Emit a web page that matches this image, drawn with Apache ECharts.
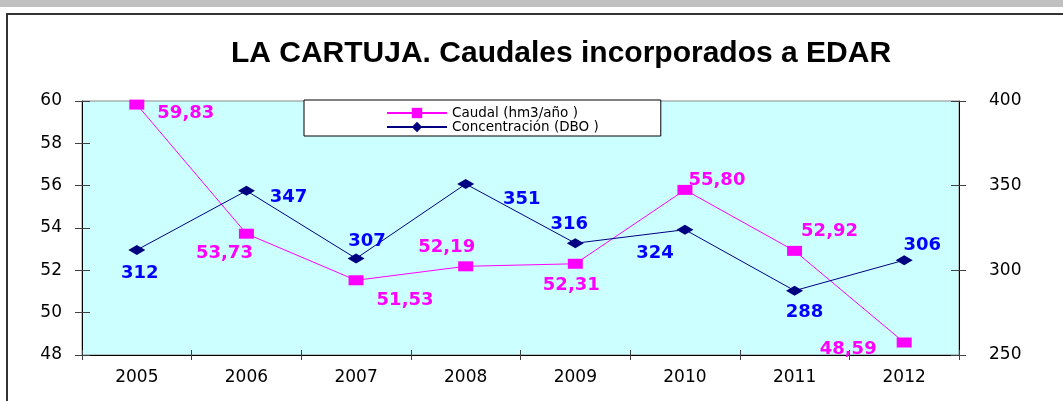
<!DOCTYPE html>
<html>
<head>
<meta charset="utf-8">
<script src="https://cdn.jsdelivr.net/npm/echarts@6/dist/echarts.min.js"></script>
<style>
html, body { margin: 0; padding: 0; background: #fff; overflow: hidden; }
#band { position: absolute; left: 0; top: 0; width: 1063px; height: 7px; background: #c0c0c0; }
#frame { position: absolute; left: 6px; top: 13px; width: 1100px; height: 500px;
  border-left: 2px solid #333; border-top: 2px solid #333; }
#main { position: absolute; left: 0; top: 0; width: 1063px; height: 401px; }
</style>
</head>
<body>
<div id="band"></div>
<div id="frame"></div>
<div id="main"></div>
<script>
var years = ['2005', '2006', '2007', '2008', '2009', '2010', '2011', '2012'];
var caudal = [59.83, 53.73, 51.53, 52.19, 52.31, 55.80, 52.92, 48.59];
var dbo = [312, 347, 307, 351, 316, 324, 288, 306];
var leftAxis = { min: 48, max: 60, interval: 2 };
var rightAxis = { min: 250, max: 400, interval: 50 };
var names = ['Caudal (hm3/año )', 'Concentración (DBO )'];

// where each value label sits, relative to its point
var caudalLabelOffsets = [[49, 9], [-22, 20], [49, 20], [-19, -19], [-4, 22], [32, -10], [35, -20], [-56, 7]];
var dboLabelOffsets = [[3, 23], [42, 7], [11, -17], [56, 15], [-6, -19], [-30, 24], [10, 22], [18, -15]];

var chart = echarts.init(document.getElementById('main'));

var tickFont = { fontFamily: 'DejaVu Sans', fontSize: 17, color: '#000' };

function yAxisOf(scale, pos, inner) {
  return {
    type: 'value',
    position: pos,
    min: scale.min,
    max: scale.max,
    interval: scale.interval,
    axisLine: { show: !inner, lineStyle: { color: '#000', width: 1 } },
    axisTick: { show: true, inside: inner, length: inner ? 8 : 7, lineStyle: { color: '#404040' } },
    axisLabel: Object.assign({ show: !inner, margin: pos == 'left' ? 20 : 30 }, tickFont),
    splitLine: { show: false }
  };
}

function xAxisOf(inner) {
  return {
    type: 'category',
    position: 'bottom',
    data: years,
    boundaryGap: true,
    axisLine: { show: !inner, lineStyle: { color: '#000', width: 1 } },
    axisTick: { show: true, inside: inner, length: 5, lineStyle: { color: '#404040' } },
    axisLabel: Object.assign({ show: !inner, margin: 14 }, tickFont),
    splitLine: { show: false }
  };
}

var option = {
  animation: false,
  title: {
    text: 'LA CARTUJA. Caudales incorporados a EDAR',
    left: 561,
    top: 39,
    padding: 0,
    textAlign: 'center',
    textStyle: { fontFamily: 'Liberation Sans', fontWeight: 'bold', fontSize: 30, color: '#000' }
  },
  legend: {
    data: names,
    orient: 'vertical',
    left: 304,
    top: 100,
    padding: [6, 62, 2, 82],
    itemGap: 0,
    itemWidth: 60,
    itemHeight: 13,
    backgroundColor: '#fff',
    borderColor: '#000',
    borderWidth: 1,
    textStyle: { fontFamily: 'DejaVu Sans', fontSize: 13.5, color: '#000' }
  },
  grid: {
    left: 82,
    right: 104,
    top: 101,
    bottom: 46,
    show: true,
    backgroundColor: '#ccffff',
    borderColor: '#888',
    borderWidth: 1
  },
  xAxis: [xAxisOf(false), xAxisOf(true)],
  yAxis: [
    yAxisOf(leftAxis, 'left', false),
    yAxisOf(rightAxis, 'right', false),
    yAxisOf(leftAxis, 'left', true),
    yAxisOf(rightAxis, 'right', true)
  ],
  series: [{
    name: names[0],
    type: 'line',
    yAxisIndex: 0,
    symbol: 'rect',
    symbolSize: [15, 10],
    lineStyle: { color: '#ff00ff', width: 1 },
    itemStyle: { color: '#ff00ff' },
    label: {
      show: true,
      position: 'inside',
      align: 'center',
      verticalAlign: 'middle',
      fontFamily: 'DejaVu Sans',
      fontWeight: 'bold',
      fontSize: 18,
      color: '#ff00ff',
      formatter: function(p) {
        return p.value.toFixed(2).replace('.', ',');
      }
    },
    data: caudal.map(function(v, i) {
      return { value: v, label: { offset: caudalLabelOffsets[i] } };
    })
  }, {
    name: names[1],
    type: 'line',
    yAxisIndex: 1,
    symbol: 'diamond',
    symbolSize: [17, 10],
    lineStyle: { color: '#000080', width: 1 },
    itemStyle: { color: '#000080' },
    label: {
      show: true,
      position: 'inside',
      align: 'center',
      verticalAlign: 'middle',
      fontFamily: 'DejaVu Sans',
      fontWeight: 'bold',
      fontSize: 18,
      color: '#0000ff'
    },
    data: dbo.map(function(v, i) {
      return { value: v, label: { offset: dboLabelOffsets[i] } };
    })
  }]
};

chart.setOption(option);
</script>
</body>
</html>
